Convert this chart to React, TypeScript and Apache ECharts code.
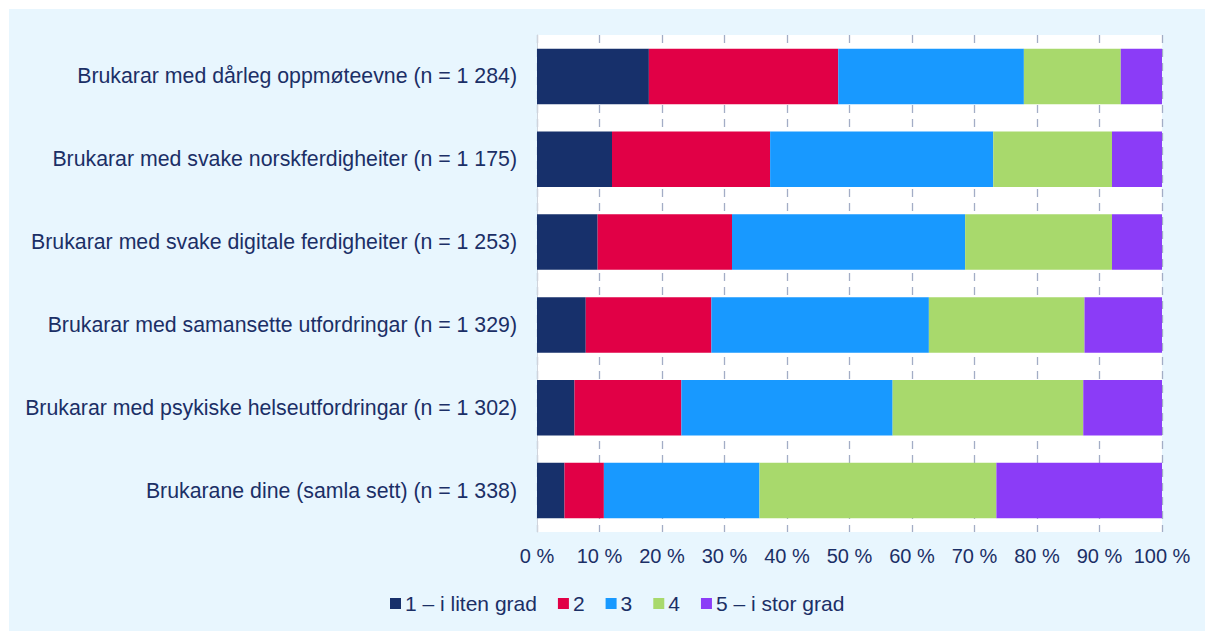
import React, { useEffect, useRef } from "react";
import * as echarts from "echarts";

const categories = [
  "Brukarar med dårleg oppmøteevne (n = 1 284)",
  "Brukarar med svake norskferdigheiter (n = 1 175)",
  "Brukarar med svake digitale ferdigheiter (n = 1 253)",
  "Brukarar med samansette utfordringar (n = 1 329)",
  "Brukarar med psykiske helseutfordringar (n = 1 302)",
  "Brukarane dine (samla sett) (n = 1 338)",
];

const seriesNames = ["1 – i liten grad", "2", "3", "4", "5 – i stor grad"];
const s1 = [17.9, 12.0, 9.7, 7.8, 6.0, 4.4];
const s2 = [30.3, 25.3, 21.5, 20.1, 17.1, 6.3];
const s3 = [29.7, 35.7, 37.3, 34.8, 33.8, 24.9];
const s4 = [15.5, 19.0, 23.5, 24.9, 30.5, 37.9];
const s5 = [6.6, 8.0, 8.0, 12.4, 12.6, 26.5];
const colors = ["#17306b", "#e10046", "#1899ff", "#a8d96c", "#8b3cf7"];
const xTicks = [0, 10, 20, 30, 40, 50, 60, 70, 80, 90, 100];

export default function App() {
  const ref = useRef<HTMLDivElement>(null);
  useEffect(() => {
    document.body.style.margin = "0";
    document.body.style.overflow = "hidden";
    const chart = echarts.init(ref.current!, null, { renderer: "svg" });
    const data = [s1, s2, s3, s4, s5];
    const font = "'Liberation Sans', Arial, sans-serif";
    const textColor = "#1b2f66";
    chart.setOption({
      animation: false,
      backgroundColor: "#ffffff",
      textStyle: { fontFamily: font },
      color: colors,
      graphic: [
        {
          type: "rect",
          shape: { x: 9, y: 9, width: 1196, height: 622 },
          style: { fill: "#e8f6fe" },
          z: -10,
          silent: true,
        },
      ],
      grid: {
        left: 537,
        right: 43,
        top: 35,
        bottom: 99,
        show: true,
        backgroundColor: "#ffffff",
        borderWidth: 0,
        containLabel: false,
      },
      legend: {
        data: seriesNames,
        left: 385,
        top: 588,
        icon: "rect",
        itemWidth: 11,
        itemHeight: 11,
        itemGap: 21,
        textStyle: { fontSize: 21, color: textColor, fontFamily: font, padding: [0, 0, 0, -1] },
      },
      xAxis: {
        type: "value",
        min: 0,
        max: 100,
        interval: 10,
        axisLabel: {
          formatter: (v: number) => (xTicks.includes(v) ? `${v} %` : ""),
          fontSize: 20,
          color: textColor,
          margin: 14,
          fontFamily: font,
        },
        axisLine: { show: false },
        axisTick: { show: false },
        splitLine: {
          show: true,
          lineStyle: { color: "#a3adc6", type: [8, 6], width: 1.3 },
        },
      },
      yAxis: {
        type: "category",
        data: categories,
        inverse: true,
        axisLabel: { fontSize: 21.3, color: textColor, margin: 20, fontFamily: font },
        axisLine: { show: true, lineStyle: { color: "#d0d4dc" } },
        axisTick: { show: false },
      },
      series: seriesNames.map((name, i) => ({
        name,
        type: "bar",
        stack: "total",
        barWidth: "67%",
        data: data[i],
        itemStyle: { color: colors[i] },
      })),
    });
    return () => chart.dispose();
  }, []);
  return (
    <div
      ref={ref}
      style={{ position: "fixed", left: 0, top: 0, width: 1205, height: 631 }}
    />
  );
}
